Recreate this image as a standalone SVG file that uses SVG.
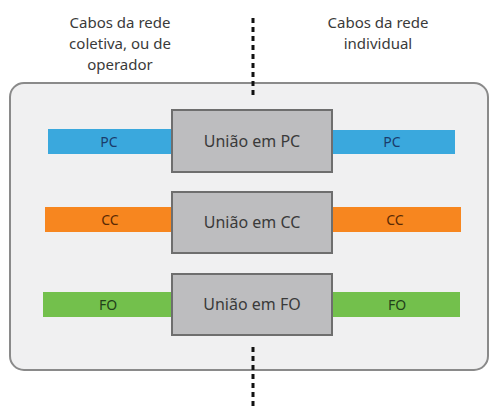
<svg xmlns="http://www.w3.org/2000/svg" width="489" height="408" viewBox="0 0 489 408">
<style>
text{font-family:"Noto Sans","Liberation Sans",sans-serif;text-anchor:middle}
.hdr{font-size:15px;fill:#3a3a3a}
.box{fill:#bdbdbf;stroke:#6e6e6e;stroke-width:2}
.btxt{font-size:16px;fill:#3a3a3a}
.bar{font-size:14px}
.div{stroke:#111;stroke-width:3;stroke-dasharray:5 4;fill:none}
</style>
<rect width="489" height="408" fill="#fff"/>
<g id="container">
<rect x="10" y="83" width="478" height="287" rx="14" ry="14" fill="#f0f0f1" stroke="#8a8a8a" stroke-width="2"/>
</g>
<g id="headers">
<text class="hdr" x="120" y="28">Cabos da rede</text>
<text class="hdr" x="120" y="49">coletiva, ou de</text>
<text class="hdr" x="120" y="70">operador</text>
<text class="hdr" x="378" y="28">Cabos da rede</text>
<text class="hdr" x="378" y="49">individual</text>
</g>
<g id="connectors">
<line class="div" x1="253" y1="18" x2="253" y2="97"/>
<line class="div" x1="253" y1="347" x2="253" y2="408"/>
</g>
<g id="pc-left"><rect x="48" y="129" width="126" height="25" fill="#3aa8dd"/><text class="bar" x="109" y="147" fill="#1b3b6b">PC</text></g>
<g id="pc-right"><rect x="330" y="130" width="125" height="24" fill="#3aa8dd"/><text class="bar" x="392" y="147" fill="#1b3b6b">PC</text></g>
<g id="cc-left"><rect x="45" y="207" width="129" height="25" fill="#f7861f"/><text class="bar" x="110" y="225" fill="#5a2a05">CC</text></g>
<g id="cc-right"><rect x="330" y="207" width="131" height="25" fill="#f7861f"/><text class="bar" x="395" y="225" fill="#5a2a05">CC</text></g>
<g id="fo-left"><rect x="43" y="292" width="131" height="25" fill="#73c04c"/><text class="bar" x="108" y="310" fill="#22401a">FO</text></g>
<g id="fo-right"><rect x="330" y="292" width="130" height="25" fill="#73c04c"/><text class="bar" x="397" y="310" fill="#22401a">FO</text></g>
<g id="uniao-pc"><rect class="box" x="172" y="110" width="160" height="62"/><text class="btxt" x="252" y="147">União em PC</text></g>
<g id="uniao-cc"><rect class="box" x="172" y="192" width="160" height="61"/><text class="btxt" x="252" y="228">União em CC</text></g>
<g id="uniao-fo"><rect class="box" x="172" y="274" width="160" height="61"/><text class="btxt" x="252" y="310">União em FO</text></g>
</svg>
